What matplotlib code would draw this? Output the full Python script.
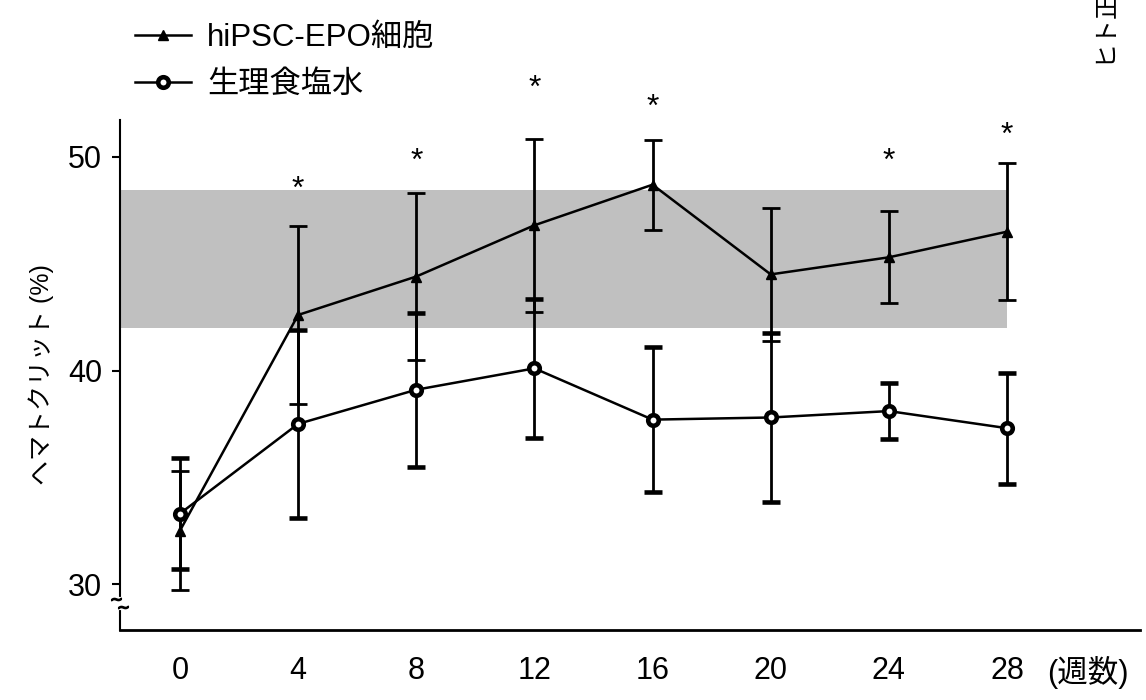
import matplotlib.pyplot as plt
from matplotlib.lines import Line2D

plt.rcParams['font.family'] = ['Liberation Sans', 'Noto Sans CJK JP']

# hematocrit (%) per week, mean and error
weeks = [0, 4, 8, 12, 16, 20, 24, 28]
epo_mean = [32.5, 42.6, 44.4, 46.8, 48.7, 44.5, 45.3, 46.5]
epo_err = [2.8, 4.15, 3.9, 4.05, 2.1, 3.1, 2.15, 3.2]
saline_mean = [33.3, 37.5, 39.1, 40.1, 37.7, 37.8, 38.1, 37.3]
saline_err = [2.6, 4.4, 3.6, 3.25, 3.4, 3.95, 1.3, 2.6]

# human normal range (grey band)
normal_lo, normal_hi = 42.0, 48.45
normal_end = 28

# significance stars
sig_weeks = [4, 8, 12, 16, 24, 28]
sig_y = [48.8, 50.1, 53.5, 52.6, 50.1, 51.3]

labels = ["hiPSC-EPO細胞", "生理食塩水"]

fig = plt.figure(figsize=(11.46, 7), dpi=100)
ax = fig.add_axes([0.1047, 0.1, 0.8900, 0.7286])
xlo, xhi = -2.03, 32.5
ax.set_xlim(xlo, xhi)
ax.set_ylim(27.85, 51.73)

ax.axhspan(normal_lo, normal_hi, xmin=0, xmax=(normal_end - xlo) / (xhi - xlo),
           color="#c0c0c0", lw=0, zorder=0)

tri = dict(color="k", marker="^", ms=7, lw=1.8)
circ = dict(color="k", marker="o", ms=7.6, mfc="white", mec="k", mew=3.3, lw=1.8)

ax.errorbar(weeks, epo_mean, yerr=epo_err, elinewidth=2, capsize=6.5,
            capthick=2, zorder=3, **tri)
ax.errorbar(weeks, saline_mean, yerr=saline_err, elinewidth=2, capsize=6.5,
            capthick=2, zorder=4, **circ)

for w, y in zip(sig_weeks, sig_y):
    ax.annotate("*", xy=(w, y), xytext=(0, -5), textcoords="offset points",
                ha="center", va="center", fontsize=23, annotation_clip=False)

for s in ["top", "right"]:
    ax.spines[s].set_visible(False)
ax.spines["left"].set_linewidth(1.5)
ax.spines["bottom"].set_linewidth(2)

ax.set_xticks(weeks)
ax.set_yticks([30, 40, 50])
ax.tick_params(axis="x", length=0, pad=19, labelsize=22)
ax.tick_params(axis="y", length=6, width=1.5, pad=7, labelsize=22)
ax.set_ylabel("ヘマトクリット (%)", fontsize=18, labelpad=10)

ax.annotate("(週数)", xy=(0.909, 0), xycoords="axes fraction",
            xytext=(0, -19), textcoords="offset points",
            ha="left", va="top", fontsize=22)

# axis break on the y axis
yt = ax.get_yaxis_transform()
ax.plot([0, 0], [28.9, 29.3], color="white", lw=3, transform=yt,
        clip_on=False, zorder=5)
ax.plot([-0.004], [29.3], marker=r"$\sim$", ms=7, color="k", transform=yt,
        clip_on=False, zorder=6)
ax.plot([0.003], [28.95], marker=r"$\sim$", ms=7, color="k", transform=yt,
        clip_on=False, zorder=6)

handles = [Line2D([], [], **tri), Line2D([], [], **circ)]
fig.legend(handles, labels, loc="upper left", bbox_to_anchor=(0.118, 0.967),
           frameon=False, fontsize=22.5, handlelength=1.8, handletextpad=0.5,
           labelspacing=0.55, borderpad=0, borderaxespad=0)

fig.text(1103 / 1146, 1 - 63 / 700, "ヒト正常範囲", rotation=90, ha="center",
         va="bottom", fontsize=18)

fig.savefig("out.png", dpi=100)
